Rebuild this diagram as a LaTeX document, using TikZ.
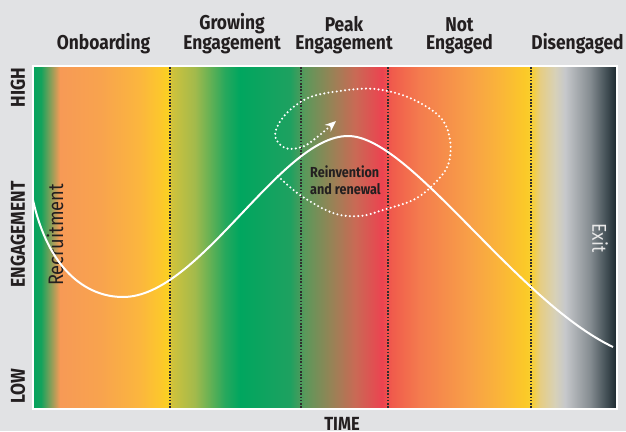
\documentclass[tikz,border=0pt]{standalone}
\usepackage{fontspec}
\setmainfont{Fira Sans}[FakeStretch=0.87]
\usepackage{tikz}
\usetikzlibrary{arrows.meta,positioning}
\definecolor{PageBackground}{HTML}{E1E2E4}
\definecolor{LabelColour}{HTML}{231F20}
\definecolor{PhaseLineColour}{HTML}{2E2E2E}
\definecolor{ExitColour}{HTML}{E8E8E8}
\definecolor{ShadeGreenA}{HTML}{05A35E}
\definecolor{ShadeGreenB}{HTML}{12A35C}
\definecolor{ShadeOrangeA}{HTML}{F79A56}
\definecolor{ShadeOrangeB}{HTML}{F8A34E}
\definecolor{ShadeOrangeC}{HTML}{FBB63E}
\definecolor{ShadeYellowA}{HTML}{FCC72C}
\definecolor{ShadeYellowB}{HTML}{FBD021}
\definecolor{ShadeLimeA}{HTML}{CFC23C}
\definecolor{ShadeLimeB}{HTML}{A2BA4C}
\definecolor{ShadeGreenC}{HTML}{27A85D}
\definecolor{ShadeGreenD}{HTML}{00A65F}
\definecolor{ShadeGreenE}{HTML}{1EA160}
\definecolor{ShadeOliveA}{HTML}{5C985A}
\definecolor{ShadeOliveB}{HTML}{948456}
\definecolor{ShadeRedA}{HTML}{C96A55}
\definecolor{ShadeRedB}{HTML}{EC4350}
\definecolor{ShadeRedC}{HTML}{F05C4C}
\definecolor{ShadeOrangeD}{HTML}{F47C4E}
\definecolor{ShadeOrangeE}{HTML}{F8A047}
\definecolor{ShadeOrangeF}{HTML}{FAB539}
\definecolor{ShadeYellowC}{HTML}{FBC928}
\definecolor{ShadeYellowD}{HTML}{F9CF2C}
\definecolor{ShadeSandA}{HTML}{E6CD82}
\definecolor{ShadeSandB}{HTML}{D7D1B8}
\definecolor{ShadeGreyA}{HTML}{C6C8CB}
\definecolor{ShadeGreyB}{HTML}{858C91}
\definecolor{ShadeGreyC}{HTML}{48545A}
\definecolor{ShadeGreyD}{HTML}{1A272D}
% stops run from 25bp (left edge) to 75bp (right edge)
\pgfdeclarehorizontalshading{EngagementShading}{100bp}{
  color(0bp)=(ShadeGreenA); color(25bp)=(ShadeGreenA); color(25.68bp)=(ShadeGreenB);
  color(27.31bp)=(ShadeOrangeA); color(30.74bp)=(ShadeOrangeB); color(34.16bp)=(ShadeOrangeC);
  color(35.87bp)=(ShadeYellowA); color(36.56bp)=(ShadeYellowB); color(36.90bp)=(ShadeLimeA);
  color(38.87bp)=(ShadeLimeB); color(41.44bp)=(ShadeGreenC); color(42.72bp)=(ShadeGreenD);
  color(47.00bp)=(ShadeGreenE); color(48.29bp)=(ShadeOliveA); color(50.43bp)=(ShadeOliveB);
  color(52.57bp)=(ShadeRedA); color(54.88bp)=(ShadeRedB); color(55.74bp)=(ShadeRedC);
  color(58.14bp)=(ShadeOrangeD); color(62.41bp)=(ShadeOrangeE); color(64.98bp)=(ShadeOrangeF);
  color(67.12bp)=(ShadeYellowC); color(67.63bp)=(ShadeYellowD); color(68.40bp)=(ShadeSandA);
  color(69.69bp)=(ShadeSandB); color(70.55bp)=(ShadeGreyA); color(72.69bp)=(ShadeGreyB);
  color(73.97bp)=(ShadeGreyC); color(75bp)=(ShadeGreyD); color(100bp)=(ShadeGreyD)}
\tikzstyle{PhaseTitle}=[font=\bfseries\fontsize{20}{18}\selectfont,align=center,text=LabelColour,anchor=base,inner sep=0pt]
\tikzstyle{AxisLabel}=[font=\bfseries\fontsize{20}{20}\selectfont,text=LabelColour,rotate=90,inner sep=0pt]
\tikzstyle{PhaseBoundary}=[PhaseLineColour,line width=1.3pt,dash pattern=on 1.6pt off 1.6pt]
\tikzstyle{EngagementCurve}=[white,line width=2pt]
\tikzstyle{RenewalLoop}=[white,line width=2.3pt,line cap=round,dash pattern=on 0pt off 4.2pt]

\begin{document}
\begin{tikzpicture}[x=1pt,y=-1pt]
  \fill[PageBackground] (0,0) rectangle (626,431);
  \useasboundingbox (0,0) rectangle (626,431);
  \coordinate (PlotTopLeft) at (33,66);
  \coordinate (PlotBottomRight) at (617,409);
  \shade[shading=EngagementShading,draw=white,line width=1.5pt] (PlotTopLeft) rectangle (PlotBottomRight);

  \foreach \x in {170,301,388,531}
    \draw[PhaseBoundary] (\x,67) -- (\x,408);

  \node[PhaseTitle](Onboarding) at (103.5,49){Onboarding};
  \node[PhaseTitle](GrowingEngagement) at (232,49){Growing\\Engagement};
  \node[PhaseTitle](PeakEngagement) at (344,49){Peak\\Engagement};
  \node[PhaseTitle](NotEngaged) at (459.5,49){Not\\Engaged};
  \node[PhaseTitle](Disengaged) at (577.5,49){Disengaged};

  \node[AxisLabel](High) at (18,87.5){HIGH};
  \node[AxisLabel](Engagement) at (18,234.5){ENGAGEMENT};
  \node[AxisLabel](Low) at (18,386){LOW};
  \node[font=\bfseries\fontsize{19}{19}\selectfont,text=LabelColour,anchor=north,inner sep=0pt](Time) at (342,417){TIME};

  \node[font=\fontsize{21}{21}\selectfont,text=LabelColour,rotate=90,inner sep=0pt](Recruitment) at (55,235){Recruitment};
  \node[font=\fontsize{20}{20}\selectfont,text=ExitColour,rotate=-90,inner sep=0pt](Exit) at (600,238){Exit};

  \coordinate (CurveStart) at (33,200);
  \coordinate (CurveLow) at (123,297);
  \coordinate (CurvePeak) at (348,136);
  \coordinate (CurveEnd) at (613,347);
  \draw[EngagementCurve] (CurveStart) .. controls (48,268) and (85,297) .. (CurveLow)
    .. controls (200,297) and (280,136) .. (CurvePeak)
    .. controls (410,136) and (515,300) .. (CurveEnd);

  \node[font=\bfseries\fontsize{14.5}{17}\selectfont,text=LabelColour,align=left,anchor=north west,inner sep=0pt](Reinvention) at (310,166){Reinvention\\and renewal};

  \draw[RenewalLoop,-{Stealth[length=11pt,width=9pt]}] plot[smooth,tension=0.6] coordinates {(278,176) (300,195)
    (333,213) (360,216) (383,210) (413,200) (433,185) (448,165) (450,140) (440,117) (410,98) (375,89)
    (340,91) (308,98) (285,115) (275,135) (285,148) (302,147) (316,138) (336,121)};
\end{tikzpicture}
\end{document}
